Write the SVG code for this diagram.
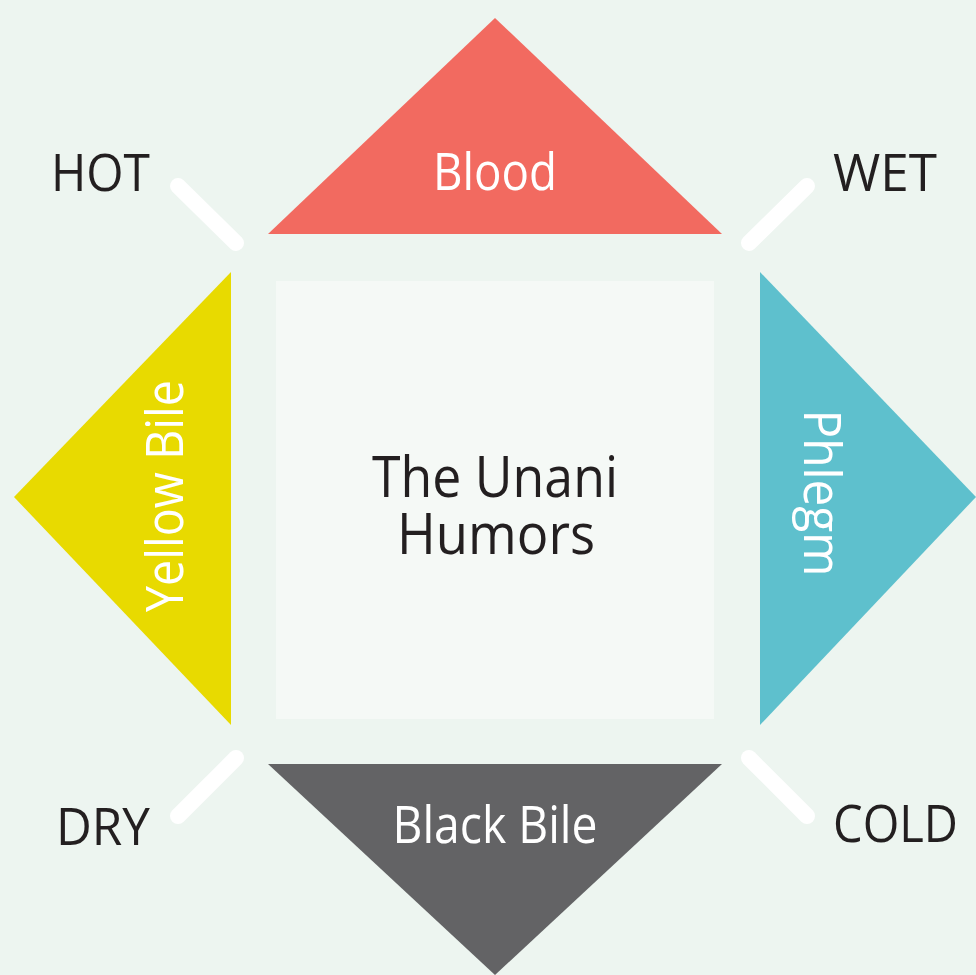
<svg xmlns="http://www.w3.org/2000/svg" width="976" height="975" viewBox="0 0 976 975">
<style>
.lbl{font-family:"Open Sans","Noto Sans",sans-serif;font-size:52px;fill:#231f20}
.wt{font-family:"Open Sans","Noto Sans",sans-serif;font-size:51px;fill:#ffffff}
.ctr{font-family:"Open Sans","Noto Sans",sans-serif;font-size:56px;fill:#231f20;text-anchor:middle}
.slash{stroke:#ffffff;stroke-width:16;stroke-linecap:round;fill:none}
</style>
<rect width="976" height="975" fill="#edf5f0"/>
<g id="connectors">
<line class="slash" x1="178" y1="186" x2="236" y2="243"/>
<line class="slash" x1="749" y1="243" x2="807" y2="186"/>
<line class="slash" x1="236" y1="758" x2="178" y2="816"/>
<line class="slash" x1="749" y1="758" x2="807" y2="816"/>
</g>
<g id="center">
<rect x="276" y="281" width="438" height="438" fill="#f5f9f6"/>
<text class="ctr" x="495" y="497" textLength="246" lengthAdjust="spacingAndGlyphs">The Unani</text>
<text class="ctr" x="496" y="554" textLength="198" lengthAdjust="spacingAndGlyphs">Humors</text>
</g>
<g id="blood">
<polygon points="495,18 722,234 268,234" fill="#f26a60"/>
<text class="wt" x="495" y="190" text-anchor="middle" textLength="124" lengthAdjust="spacingAndGlyphs">Blood</text>
</g>
<g id="yellow-bile">
<polygon points="14,497 231,272 231,725" fill="#e8da00"/>
<text class="wt" transform="translate(183,496) rotate(-90)" x="0" y="0" text-anchor="middle" textLength="232" lengthAdjust="spacingAndGlyphs">Yellow Bile</text>
</g>
<g id="phlegm">
<polygon points="976,497 760,272 760,725" fill="#5ec0cd"/>
<text class="wt" transform="translate(804,493) rotate(90)" x="0" y="0" text-anchor="middle" textLength="167" lengthAdjust="spacingAndGlyphs">Phlegm</text>
</g>
<g id="black-bile">
<polygon points="268,764 722,764 495,975" fill="#636365"/>
<text class="wt" x="495" y="843" text-anchor="middle" textLength="205" lengthAdjust="spacingAndGlyphs">Black Bile</text>
</g>
<g id="hot"><text class="lbl" x="51" y="191" textLength="99" lengthAdjust="spacingAndGlyphs">HOT</text></g>
<g id="wet"><text class="lbl" x="833" y="191" textLength="104" lengthAdjust="spacingAndGlyphs">WET</text></g>
<g id="dry"><text class="lbl" x="56" y="845" textLength="94" lengthAdjust="spacingAndGlyphs">DRY</text></g>
<g id="cold"><text class="lbl" x="833" y="842" textLength="125" lengthAdjust="spacingAndGlyphs">COLD</text></g>
</svg>
